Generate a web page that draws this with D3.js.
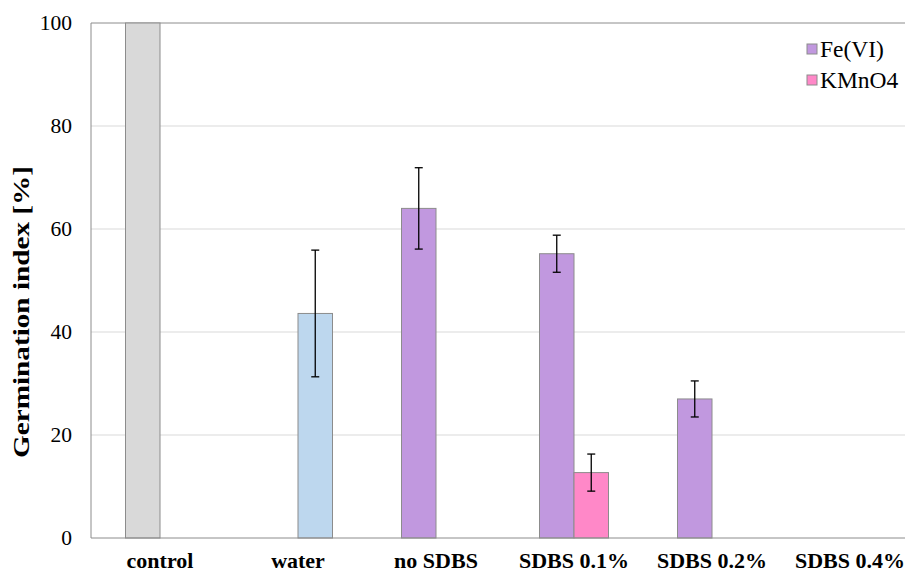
<!DOCTYPE html>
<html>
<head>
<meta charset="utf-8">
<script src="https://cdn.jsdelivr.net/npm/d3@7"></script>
<style>
  body { margin: 0; background: #fff; }
  svg text { font-family: "Liberation Serif", "Times New Roman", serif; }
</style>
</head>
<body>
<div id="chart"></div>
<script>
// Data
const categories = ["control", "water", "no SDBS", "SDBS 0.1%", "SDBS 0.2%", "SDBS 0.4%"];
const seriesNames = ["Fe(VI)", "KMnO4"];
const feValues = [100, 0, 64.0, 55.2, 27.0, 0];
const feErrors = [0, 0, 7.9, 3.6, 3.5, 0];
const kmnValues = [0, 43.6, 0, 12.7, 0, 0];
const kmnErrors = [0, 12.3, 0, 3.6, 0, 0];
const yTicks = [0, 20, 40, 60, 80, 100];

// Colours (control and water points are recoloured as in the original)
const seriesColors = ["#c198df", "#ff88c8"];
const pointColors = {"control": "#d9d9d9", "water": "#bdd7ee"};

// Layout (the plot runs a bit past the right edge, as in the original)
const margin = {top: 23, right: -14, bottom: 35, left: 91};
const width = 905 - margin.left - margin.right;
const height = 573 - margin.top - margin.bottom;

const svg = d3.select("#chart")
    .append("svg")
    .attr("width", 905)
    .attr("height", 573)
    .append("g")
    .attr("transform", `translate(${margin.left},${margin.top})`);

// Scales
const x0 = d3.scaleBand()
    .domain(categories)
    .range([0, width]);

const x1 = d3.scaleBand()
    .domain(seriesNames)
    .range([x0.bandwidth() / 4, x0.bandwidth() * 3 / 4]);

const y = d3.scaleLinear()
    .domain([0, 100])
    .range([height, 0]);

// Gridlines
svg.append("g")
    .selectAll("line")
    .data(yTicks.filter(t => t > 0 && t < 100))
    .enter()
    .append("line")
    .attr("x1", 0)
    .attr("x2", width)
    .attr("y1", d => y(d))
    .attr("y2", d => y(d))
    .attr("stroke", "#d9d9d9")
    .attr("stroke-width", 1);

// Top border line at 100
svg.append("line")
    .attr("x1", 0)
    .attr("x2", width)
    .attr("y1", y(100))
    .attr("y2", y(100))
    .attr("stroke", "#8c8c8c")
    .attr("stroke-width", 1);

// Bars
const rows = categories.map((c, i) => [
    {cat: c, series: seriesNames[0], value: feValues[i], err: feErrors[i]},
    {cat: c, series: seriesNames[1], value: kmnValues[i], err: kmnErrors[i]}
]).flat();

const barColor = d => {
    if (d.value > 0 && pointColors[d.cat]) return pointColors[d.cat];
    return d.series === seriesNames[0] ? seriesColors[0] : seriesColors[1];
};

svg.selectAll(".bar")
    .data(rows)
    .enter()
    .append("rect")
    .attr("class", "bar")
    .attr("x", d => x0(d.cat) + x1(d.series))
    .attr("y", d => y(d.value))
    .attr("width", x1.bandwidth())
    .attr("height", d => y(0) - y(d.value))
    .attr("fill", barColor)
    .attr("stroke", "#8c8c8c")
    .attr("stroke-width", 1);

// Error bars
const capW = 4;
rows.filter(d => d.err > 0).forEach(d => {
    const cx = x0(d.cat) + x1(d.series) + x1.bandwidth() / 2;
    const g = svg.append("g").attr("stroke", "#000").attr("stroke-width", 1.3);
    g.append("line")
        .attr("x1", cx).attr("x2", cx)
        .attr("y1", y(d.value + d.err)).attr("y2", y(d.value - d.err));
    g.append("line")
        .attr("x1", cx - capW).attr("x2", cx + capW)
        .attr("y1", y(d.value + d.err)).attr("y2", y(d.value + d.err));
    g.append("line")
        .attr("x1", cx - capW).attr("x2", cx + capW)
        .attr("y1", y(d.value - d.err)).attr("y2", y(d.value - d.err));
});

// Axis lines
svg.append("line")
    .attr("x1", 0).attr("x2", 0)
    .attr("y1", 0).attr("y2", height)
    .attr("stroke", "#8c8c8c")
    .attr("stroke-width", 1);

svg.append("line")
    .attr("x1", 0).attr("x2", width)
    .attr("y1", height).attr("y2", height)
    .attr("stroke", "#8c8c8c")
    .attr("stroke-width", 1);

// Y tick labels
const yAxis = svg.append("g")
    .call(d3.axisLeft(y).tickValues(yTicks).tickSize(0).tickPadding(19));
yAxis.attr("font-family", null).attr("font-size", null);
yAxis.select(".domain").remove();
yAxis.selectAll("text")
    .style("font-size", "21.5px")
    .attr("fill", "#000");

// X tick labels
const xAxis = svg.append("g")
    .attr("transform", `translate(0,${height})`)
    .call(d3.axisBottom(x0).tickSize(0).tickPadding(14));
xAxis.attr("font-family", null).attr("font-size", null);
xAxis.select(".domain").remove();
xAxis.selectAll("text")
    .style("font-size", "22px")
    .style("font-weight", "bold")
    .attr("fill", "#000");

// Y-axis label
svg.append("text")
    .attr("text-anchor", "middle")
    .attr("transform", "rotate(-90)")
    .attr("x", -(312 - margin.top))
    .attr("y", 29 - margin.left)
    .attr("textLength", 292)
    .attr("lengthAdjust", "spacingAndGlyphs")
    .style("font-size", "24px")
    .style("font-weight", "bold")
    .text("Germination index [%]");

// Legend
const legend = svg.append("g")
    .attr("transform", `translate(${807 - margin.left},${49 - margin.top})`);

seriesNames.forEach((s, i) => {
    legend.append("rect")
        .attr("x", 0)
        .attr("y", i * 31 - 5)
        .attr("width", 10)
        .attr("height", 10)
        .attr("fill", seriesColors[i])
        .attr("stroke", "#8c8c8c")
        .attr("stroke-width", 1);
    legend.append("text")
        .attr("x", 13)
        .attr("y", i * 31)
        .attr("dy", "0.35em")
        .style("font-size", "23.5px")
        .text(s);
});
</script>
</body>
</html>
